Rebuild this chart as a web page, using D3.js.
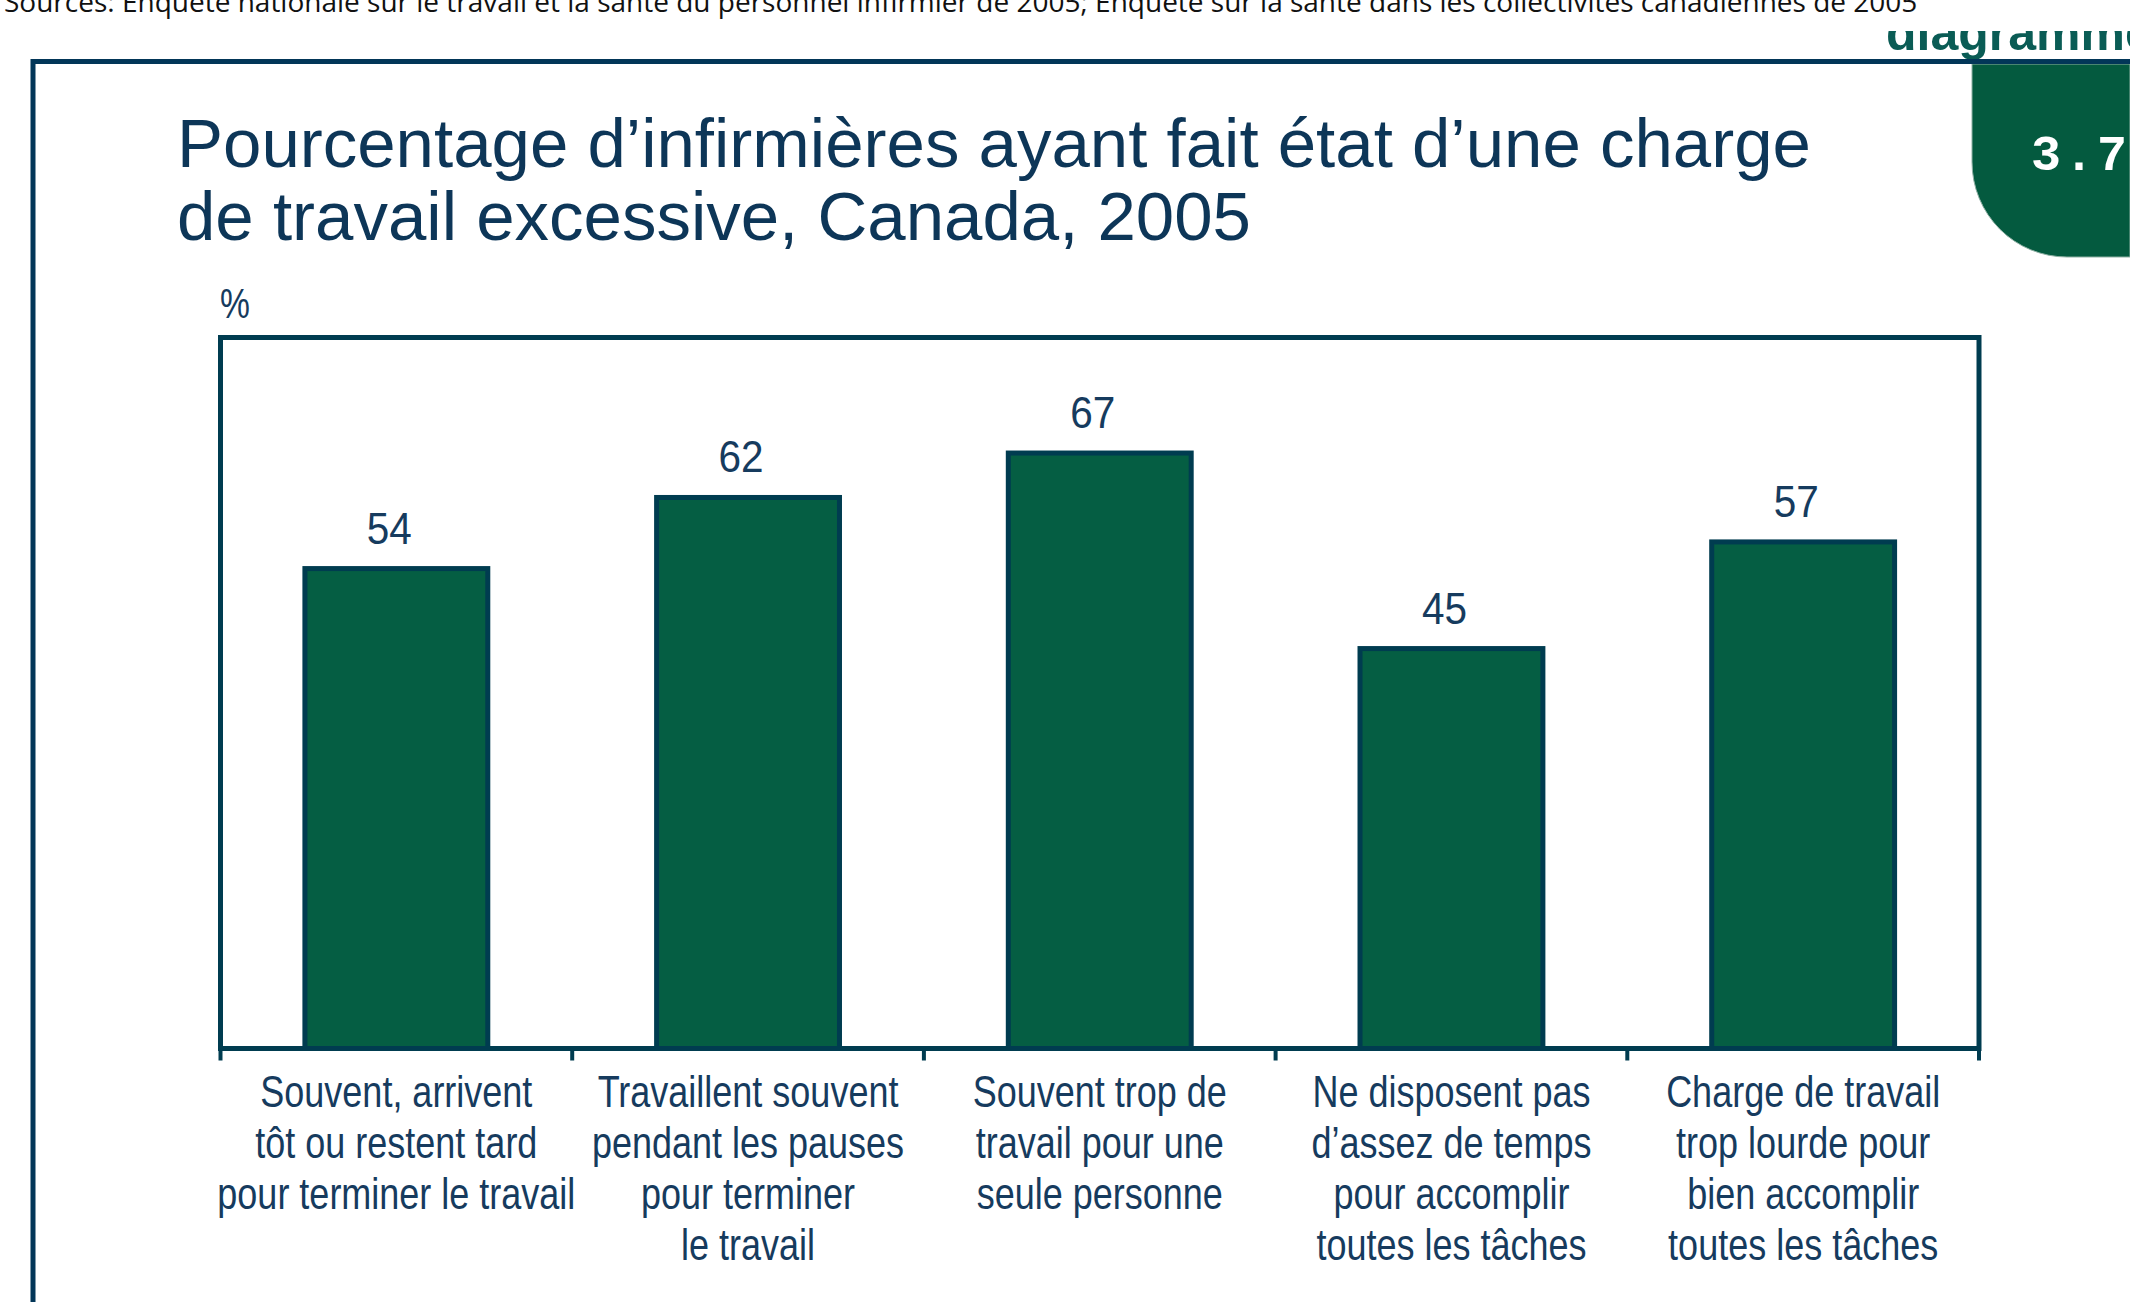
<!DOCTYPE html>
<html>
<head>
<meta charset="utf-8">
<script src="https://cdn.jsdelivr.net/npm/d3@7"></script>
<style>
  body { margin: 0; background: #fff; }
  svg { display: block; }
</style>
</head>
<body>
<div id="chart"></div>
<script>
const sourceText = "Sources: Enquête nationale sur le travail et la santé du personnel infirmier de 2005; Enquête sur la santé dans les collectivités canadiennes de 2005";
const titleLines = ["Pourcentage d’infirmières ayant fait état d’une charge", "de travail excessive, Canada, 2005"];
const chartNumber = "3.7";
const chartWord = "diagramme";
const unitLabel = "%";

const categories = [
  ["Souvent, arrivent", "tôt ou restent tard", "pour terminer le travail"],
  ["Travaillent souvent", "pendant les pauses", "pour terminer", "le travail"],
  ["Souvent trop de", "travail pour une", "seule personne"],
  ["Ne disposent pas", "d’assez de temps", "pour accomplir", "toutes les tâches"],
  ["Charge de travail", "trop lourde pour", "bien accomplir", "toutes les tâches"]
];
const values = [54, 62, 67, 45, 57];
const yDomain = [0, 80];

const width = 2130;
const height = 1302;
const plot = { left: 220.5, right: 1979, top: 337.5, bottom: 1048.5 };
const navy = "#003c50";
const textNavy = "#163b5e";
const green = "#055e43";

const svg = d3.select("#chart")
  .append("svg")
    .attr("width", width)
    .attr("height", height)
    .attr("viewBox", `0 0 ${width} ${height}`);

svg.append("rect")
    .attr("width", width)
    .attr("height", height)
    .attr("fill", "#fff");

// source line cut at the top of the page
svg.append("text")
    .attr("x", 4)
    .attr("y", 12)
    .attr("font-family", "'Open Sans', sans-serif")
    .attr("font-size", 28)
    .attr("fill", "#111")
    .text(sourceText);

// clipped "diagramme" word above the tab
svg.append("clipPath")
    .attr("id", "wordClip")
  .append("rect")
    .attr("x", 0)
    .attr("y", 31)
    .attr("width", width)
    .attr("height", 30);

svg.append("text")
    .attr("clip-path", "url(#wordClip)")
    .attr("x", 1886)
    .attr("y", 50)
    .attr("font-family", "Arial, 'Liberation Sans', sans-serif")
    .attr("font-weight", "bold")
    .attr("font-size", 50)
    .attr("fill", "#0a5c55")
    .text(chartWord);

// green tab with rounded lower-left corner
const tabX = 1972, tabY = 64, tabBottom = 257, r = 95;
svg.append("path")
    .attr("d", `M${tabX},${tabY} H${width} V${tabBottom} H${tabX + r} A${r},${r} 0 0 1 ${tabX},${tabBottom - r} Z`)
    .attr("fill", "#045a3f")
    .attr("stroke", "#8fb0a4")
    .attr("stroke-width", 1);

svg.append("text")
    .attr("x", 2031)
    .attr("y", 170)
    .attr("font-family", "'Liberation Mono', 'DejaVu Sans Mono', monospace")
    .attr("font-weight", "bold")
    .attr("font-size", 50)
    .attr("letter-spacing", 3)
    .attr("fill", "#fff")
    .text(chartNumber);

// outer page frame (top and left)
svg.append("path")
    .attr("d", `M33,${height} V61.5 H${width}`)
    .attr("fill", "none")
    .attr("stroke", "#023658")
    .attr("stroke-width", 5);

// title
svg.append("g")
  .selectAll("text")
  .data(titleLines)
  .join("text")
    .attr("x", 177)
    .attr("y", (d, i) => 167 + i * 73)
    .attr("font-family", "Arial, 'Liberation Sans', sans-serif")
    .attr("font-size", 69)
    .attr("fill", "#0d3658")
    .text((d) => d);

// unit label
svg.append("text")
    .attr("transform", "translate(220, 318) scale(0.8, 1)")
    .attr("font-family", "Arial, 'Liberation Sans', sans-serif")
    .attr("font-size", 42)
    .attr("fill", textNavy)
    .text(unitLabel);

const xScale = d3.scaleBand()
  .domain(d3.range(categories.length))
  .range([plot.left, plot.right])
  .paddingInner(0.48)
  .paddingOuter(0.24);

const yScale = d3.scaleLinear()
  .domain(yDomain)
  .range([plot.bottom, plot.top]);

// plot frame
svg.append("rect")
    .attr("x", plot.left)
    .attr("y", plot.top)
    .attr("width", plot.right - plot.left)
    .attr("height", plot.bottom - plot.top)
    .attr("fill", "none")
    .attr("stroke", navy)
    .attr("stroke-width", 5);

// bars
svg.append("g")
  .selectAll("rect")
  .data(values)
  .join("rect")
    .attr("x", (d, i) => xScale(i))
    .attr("y", (d) => yScale(d))
    .attr("width", xScale.bandwidth())
    .attr("height", (d) => yScale(0) - yScale(d))
    .attr("fill", green)
    .attr("stroke", navy)
    .attr("stroke-width", 5);

// bottom axis with ticks between categories
const boundaries = d3.range(categories.length + 1)
  .map((i) => plot.left + i * xScale.step());

svg.append("line")
    .attr("x1", plot.left)
    .attr("x2", plot.right)
    .attr("y1", plot.bottom)
    .attr("y2", plot.bottom)
    .attr("stroke", navy)
    .attr("stroke-width", 5);

svg.append("g")
  .selectAll("line")
  .data(boundaries)
  .join("line")
    .attr("x1", (d) => d)
    .attr("x2", (d) => d)
    .attr("y1", plot.bottom)
    .attr("y2", plot.bottom + 12)
    .attr("stroke", navy)
    .attr("stroke-width", 4);

// value labels
svg.append("g")
  .selectAll("text")
  .data(values)
  .join("text")
    .attr("transform", (d, i) =>
      `translate(${xScale(i) + xScale.bandwidth() / 2 - 7}, ${yScale(d) - 25}) scale(0.9, 1)`)
    .attr("text-anchor", "middle")
    .attr("font-family", "Arial, 'Liberation Sans', sans-serif")
    .attr("font-size", 45)
    .attr("fill", textNavy)
    .text((d) => d);

// category labels
const labelGroups = svg.append("g")
  .selectAll("g")
  .data(categories)
  .join("g")
    .attr("transform", (d, i) =>
      `translate(${xScale(i) + xScale.bandwidth() / 2}, 1107) scale(0.8, 1)`);

labelGroups.selectAll("text")
  .data((d) => d)
  .join("text")
    .attr("y", (d, i) => i * 51)
    .attr("text-anchor", "middle")
    .attr("font-family", "Arial, 'Liberation Sans', sans-serif")
    .attr("font-size", 45)
    .attr("fill", textNavy)
    .text((d) => d);
</script>
</body>
</html>
